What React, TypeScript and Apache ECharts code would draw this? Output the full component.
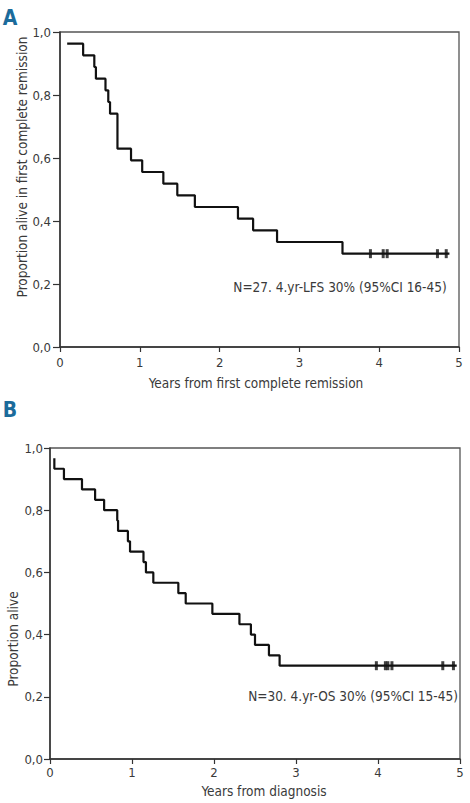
import React, { useEffect, useRef } from "react";
import * as echarts from "echarts";

// Panel A: leukemia-free survival (N=27)
const timesA = [0.09, 0.29, 0.43, 0.45, 0.57, 0.605, 0.627, 0.72, 0.89, 1.03, 1.295, 1.47, 1.69, 2.23, 2.42, 2.72, 3.54, 4.88];
const survA = [26 / 27, 25 / 27, 24 / 27, 23 / 27, 22 / 27, 21 / 27, 20 / 27, 17 / 27, 16 / 27, 15 / 27, 14 / 27, 13 / 27, 12 / 27, 11 / 27, 10 / 27, 9 / 27, 8 / 27, 8 / 27];
const censorA = [3.89, 4.05, 4.1, 4.73, 4.84];

// Panel B: overall survival (N=30)
const timesB = [0.053, 0.053, 0.17, 0.39, 0.55, 0.66, 0.82, 0.83, 0.95, 0.976, 1.14, 1.17, 1.26, 1.565, 1.655, 1.98, 2.31, 2.45, 2.5, 2.67, 2.8, 4.96];
const survB = [29 / 30, 28 / 30, 27 / 30, 26 / 30, 25 / 30, 24 / 30, 23 / 30, 22 / 30, 21 / 30, 20 / 30, 19 / 30, 18 / 30, 17 / 30, 16 / 30, 15 / 30, 14 / 30, 13 / 30, 12 / 30, 11 / 30, 10 / 30, 9 / 30, 9 / 30];
const censorB = [3.98, 4.09, 4.12, 4.17, 4.79, 4.92];

const xTicks = [0, 1, 2, 3, 4, 5];
const yTickLabels = ["0,0", "0,2", "0,4", "0,6", "0,8", "1,0"];

const panelLabels = ["A", "B"];
const xTitles = ["Years from first complete remission", "Years from diagnosis"];
const yTitles = ["Proportion alive in first complete remission", "Proportion alive"];
const notes = ["N=27. 4.yr-LFS 30% (95%CI 16-45)", "N=30. 4.yr-OS 30% (95%CI 15-45)"];

const FONT = "'Liberation Sans Narrow', 'DejaVu Sans Condensed', 'Arial Narrow', sans-serif";
const TEXT = "#3a3a3a";
const AXIS = "#333";

function censorValue(t: number, times: number[], surv: number[]) {
  let v = surv[0];
  for (let i = 0; i < times.length; i++) if (times[i] <= t) v = surv[i];
  return v;
}

export default function App() {
  const ref = useRef<HTMLDivElement>(null);
  useEffect(() => {
    if (!ref.current) return;
    const chart = echarts.init(ref.current, null, { renderer: "svg" });
    const mkX = (gi: number, margin: number) => ({
      type: "value",
      gridIndex: gi,
      min: xTicks[0],
      max: xTicks[xTicks.length - 1],
      interval: 1,
      axisLine: { show: true, lineStyle: { color: AXIS, width: 1.5 } },
      axisTick: { show: true, length: 5, lineStyle: { color: AXIS, width: 1.2 } },
      axisLabel: { color: TEXT, fontSize: 13, fontFamily: FONT, margin },
      splitLine: { show: false },
    });
    const mkY = (gi: number, tickLen: number, margin: number) => ({
      type: "value",
      gridIndex: gi,
      min: 0,
      max: 1,
      interval: 0.2,
      axisLine: { show: true, lineStyle: { color: AXIS, width: 1.5 } },
      axisTick: { show: true, length: tickLen, lineStyle: { color: AXIS, width: 1.2 } },
      axisLabel: {
        color: TEXT,
        fontSize: 13,
        fontFamily: FONT,
        margin,
        formatter: (v: number) => yTickLabels[Math.round(v / 0.2)],
      },
      splitLine: { show: false },
    });
    const lineSeries = (gi: number, times: number[], surv: number[]) => ({
      type: "line",
      xAxisIndex: gi,
      yAxisIndex: gi,
      step: "end",
      symbol: "none",
      data: times.map((t, i) => [t, surv[i]]),
      lineStyle: { color: "#111", width: 2.2 },
    });
    const censorSeries = (gi: number, cens: number[], times: number[], surv: number[]) => ({
      type: "scatter",
      xAxisIndex: gi,
      yAxisIndex: gi,
      symbol: "rect",
      symbolSize: [3, 9],
      itemStyle: { color: "#111" },
      data: cens.map((t) => [t, censorValue(t, times, surv)]),
    });
    const txt = (text: string, x: number, y: number, extra: any = {}) => ({
      type: "text",
      x,
      y,
      ...extra,
      style: {
        text,
        fill: TEXT,
        font: `13.5px ${FONT}`,
        textAlign: "center",
        textVerticalAlign: "middle",
        ...(extra.style || {}),
      },
    });
    chart.setOption({
      animation: false,
      backgroundColor: "#fff",
      grid: [
        { left: 60, top: 32, width: 399, height: 315, show: true, borderColor: "#555", borderWidth: 1.3, backgroundColor: "transparent" },
        { left: 50, top: 448, width: 410, height: 311, show: true, borderColor: "#555", borderWidth: 1.3, backgroundColor: "transparent" },
      ],
      xAxis: [mkX(0, 9), mkX(1, 7)],
      yAxis: [mkY(0, 7, 9), mkY(1, 6, 7)],
      series: [
        lineSeries(0, timesA, survA),
        censorSeries(0, censorA, timesA, survA),
        lineSeries(1, timesB, survB),
        censorSeries(1, censorB, timesB, survB),
      ],
      graphic: [
        txt(panelLabels[0], 10, 18, { style: { fill: "#1b6b9b", font: `bold 21px ${FONT}` } }),
        txt(panelLabels[1], 10, 410, { style: { fill: "#1b6b9b", font: `bold 21px ${FONT}` } }),
        txt(xTitles[0], 256, 383),
        txt(xTitles[1], 264, 791),
        txt(yTitles[0], 22, 167, { rotation: Math.PI / 2 }),
        txt(yTitles[1], 13, 639, { rotation: Math.PI / 2 }),
        txt(notes[0], 340, 287),
        txt(notes[1], 353, 696),
      ],
    });
    return () => chart.dispose();
  }, []);
  return <div ref={ref} style={{ position: "absolute", left: 0, top: 0, width: 470, height: 803 }} />;
}
